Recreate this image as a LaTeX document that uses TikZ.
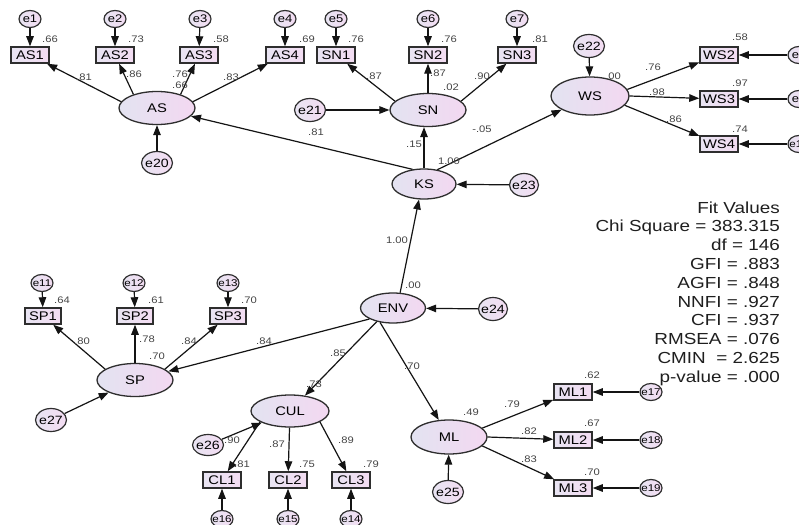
\documentclass[tikz,border=0pt]{standalone}
\usepackage{fontspec}
\setmainfont{Liberation Sans}[FakeStretch=1.18]
\usetikzlibrary{shapes.geometric,arrows.meta}
\definecolor{edgec}{HTML}{2E2E2E}
\definecolor{fillL}{HTML}{E3E3F1}
\definecolor{fillR}{HTML}{F3D8F1}
\definecolor{boxL}{HTML}{E8E4F2}
\definecolor{boxR}{HTML}{F3DCF2}
\definecolor{coefc}{HTML}{444444}
\newcommand{\ztext}[1]{\makebox[0pt]{#1}}
\begin{document}
\begin{tikzpicture}[x=1pt,y=-1pt,
 lat/.style={ellipse, draw=edgec, line width=1.3pt, left color=fillL, right color=fillR, minimum width=76pt, minimum height=33pt, inner sep=0pt, font=\fontsize{12.5}{14}\selectfont},
 obs/.style={rectangle, draw=edgec, line width=1.5pt, left color=boxL, right color=boxR, minimum width=38pt, minimum height=16pt, inner sep=1pt, font=\fontsize{12.5}{14}\selectfont},
 errs/.style={ellipse, draw=edgec, line width=1.2pt, left color=boxL, right color=boxR, minimum width=22pt, minimum height=17pt, inner sep=0pt, font=\fontsize{11}{12}\selectfont},
 errss/.style={errs, font=\fontsize{9.8}{11}\selectfont},
 errb/.style={errs, minimum width=31pt, minimum height=23pt, font=\fontsize{12}{13}\selectfont},
 coef/.style={font=\fontsize{9.5}{10}\selectfont, text=coefc, inner sep=0pt},
 fitv/.style={anchor=base east, font=\fontsize{16}{18}\selectfont, text=black!88, inner sep=0pt},
 arr/.style={-{Triangle[length=10pt,width=7.5pt]}, line width=1.2pt, draw=black!92},
]
\path[use as bounding box, clip] (0,0) rectangle (799,524);
\fill[white] (0,0) rectangle (799,524);

% ---------- AS block ----------
\node[errs] (e1) at (30,19) {\ztext{e1}};
\node[errs] (e2) at (115,19) {\ztext{e2}};
\node[errs] (e3) at (200,19) {\ztext{e3}};
\node[errs] (e4) at (285,19) {\ztext{e4}};
\node[obs] (AS1) at (30,55) {AS1};
\node[obs] (AS2) at (115,55) {AS2};
\node[obs] (AS3) at (199,55) {AS3};
\node[obs] (AS4) at (285,55) {AS4};
\node[lat] (AS) at (157,108) {AS};
\node[errb] (e20) at (157,163) {\ztext{e20}};

% ---------- SN block ----------
\node[errs] (e5) at (336,19) {\ztext{e5}};
\node[errs] (e6) at (428,19) {\ztext{e6}};
\node[errs] (e7) at (517,19) {\ztext{e7}};
\node[obs] (SN1) at (336,55) {SN1};
\node[obs] (SN2) at (428,55) {SN2};
\node[obs] (SN3) at (517,55) {SN3};
\node[lat] (SN) at (428,110) {SN};
\node[errb] (e21) at (310,110) {\ztext{e21}};

% ---------- WS block ----------
\node[lat, minimum width=78pt, minimum height=38pt] (WS) at (590,96) {WS};
\node[errb] (e22) at (589,46) {\ztext{e22}};
\node[obs] (WS2) at (719,55) {WS2};
\node[obs] (WS3) at (719,99) {WS3};
\node[obs] (WS4) at (719,144) {WS4};
\node[errs] (e8) at (799,55) {\ztext{e8}};
\node[errs] (e9) at (799,99) {\ztext{e9}};
\node[errss] (e10) at (799,144) {\ztext{e10}};

% ---------- KS / ENV ----------
\node[lat, minimum width=64pt, minimum height=30pt] (KS) at (424,184) {KS};
\node[errb, minimum width=29pt] (e23) at (524,185) {\ztext{e23}};
\node[lat, minimum width=65pt, minimum height=30pt] (ENV) at (393,308) {ENV};
\node[errb, minimum width=29pt] (e24) at (493,309) {\ztext{e24}};

% ---------- SP block ----------
\node[errss] (e11) at (42,283) {\ztext{e11}};
\node[errss] (e12) at (134,283) {\ztext{e12}};
\node[errss] (e13) at (228,283) {\ztext{e13}};
\node[obs, minimum width=36pt] (SP1) at (43,316) {SP1};
\node[obs, minimum width=36pt] (SP2) at (135,316) {SP2};
\node[obs, minimum width=36pt] (SP3) at (228,316) {SP3};
\node[lat] (SP) at (135,380) {SP};
\node[errb] (e27) at (51,420) {\ztext{e27}};

% ---------- CUL block ----------
\node[lat, minimum width=78pt, minimum height=32pt] (CUL) at (290,411) {CUL};
\node[errb, minimum height=21pt] (e26) at (208,445) {\ztext{e26}};
\node[obs] (CL1) at (222,480) {CL1};
\node[obs] (CL2) at (288,480) {CL2};
\node[obs] (CL3) at (351,480) {CL3};
\node[errss] (e16) at (222,519) {\ztext{e16}};
\node[errss] (e15) at (288,519) {\ztext{e15}};
\node[errss] (e14) at (351,519) {\ztext{e14}};

% ---------- ML block ----------
\node[lat, minimum height=34pt] (ML) at (449,437) {ML};
\node[errb] (e25) at (448,492) {\ztext{e25}};
\node[obs] (ML1) at (573,392) {ML1};
\node[obs] (ML2) at (573,440) {ML2};
\node[obs] (ML3) at (573,488) {ML3};
\node[errss] (e17) at (651,392) {\ztext{e17}};
\node[errss] (e18) at (651,440) {\ztext{e18}};
\node[errss] (e19) at (651,488) {\ztext{e19}};

% ---------- connectors ----------
\draw[arr] (e1) -- (AS1);
\draw[arr] (e2) -- (AS2);
\draw[arr] (e3) -- (AS3);
\draw[arr] (e4) -- (AS4);
\draw[arr] (AS.170) -- (AS1);
\draw[arr] (AS.150) -- (AS2);
\draw[arr] (AS.30) -- (AS3);
\draw[arr] (AS.10) -- (AS4);
\draw[arr] (e20) -- (AS);

\draw[arr] (e5) -- (SN1);
\draw[arr] (e6) -- (SN2);
\draw[arr] (e7) -- (SN3);
\draw[arr] (SN.165) -- (SN1);
\draw[arr] (SN) -- (SN2);
\draw[arr] (SN.15) -- (SN3);
\draw[arr] (e21) -- (SN);

\draw[arr] (e22) -- (WS);
\draw[arr] (WS.10) -- (WS2);
\draw[arr] (WS.east) -- (WS3);
\draw[arr] (WS.-15) -- (WS4);
\draw[arr] (e8) -- (WS2);
\draw[arr] (e9) -- (WS3);
\draw[arr] (e10) -- (WS4);

\draw[arr] (KS.128) -- (AS);
\draw[arr] (KS.north) -- (KS.north |- SN.south);
\draw[arr] (KS.47) -- (WS);
\draw[arr] (e23) -- (KS);
\draw[arr] (ENV.65) -- (KS.252);
\draw[arr] (e24) -- (ENV);

\draw[arr] (ENV.205) -- (SP);
\draw[arr] (ENV.220) -- (CUL);
\draw[arr] (ENV.228) -- (ML);

\draw[arr] (e11) -- (SP1);
\draw[arr] (e12) -- (SP2);
\draw[arr] (e13) -- (SP3);
\draw[arr] (SP.160) -- (SP1);
\draw[arr] (SP) -- (SP2);
\draw[arr] (SP.20) -- (SP3);
\draw[arr] (e27) -- (SP);

\draw[arr] (CUL.200) -- (CL1);
\draw[arr] (CUL) -- (CL2);
\draw[arr] (CUL.340) -- (CL3);
\draw[arr] (e26) -- (CUL);
\draw[arr] (e16) -- (CL1);
\draw[arr] (e15) -- (CL2);
\draw[arr] (e14) -- (CL3);

\draw[arr] (ML.15) -- (ML1);
\draw[arr] (ML.east) -- (ML2);
\draw[arr] (ML.-15) -- (ML3);
\draw[arr] (e25) -- (ML);
\draw[arr] (e17) -- (ML1);
\draw[arr] (e18) -- (ML2);
\draw[arr] (e19) -- (ML3);

% ---------- coefficients ----------
\node[coef] (c1) at (50,39) {.66};
\node[coef] (c2) at (136,39) {.73};
\node[coef] (c3) at (221,39) {.58};
\node[coef] (c4) at (307,39) {.69};
\node[coef] (c5) at (84,77) {.81};
\node[coef] (c6) at (134,74) {.86};
\node[coef] (c7) at (180,74) {.76};
\node[coef] (c8) at (180,85) {.66};
\node[coef] (c9) at (231,77) {.83};

\node[coef] (c10) at (356,39) {.76};
\node[coef] (c11) at (449,39) {.76};
\node[coef] (c12) at (540,39) {.81};
\node[coef] (c13) at (374,76) {.87};
\node[coef] (c14) at (438,73) {.87};
\node[coef] (c15) at (451,87) {.02};
\node[coef] (c16) at (482,76) {.90};
\node[coef] (c17) at (316,132) {.81};
\node[coef] (c18) at (414,144) {.15};
\node[coef] (c19) at (482,129) {-.05};
\node[coef] (c20) at (449,161) {1.00};

\node[coef] (c21) at (613,76) {.00};
\node[coef] (c22) at (653,67) {.76};
\node[coef] (c23) at (657,92) {.98};
\node[coef] (c24) at (674,119) {.86};
\node[coef] (c25) at (740,37) {.58};
\node[coef] (c26) at (740,83) {.97};
\node[coef] (c27) at (740,129) {.74};

\node[coef] (c28) at (397,240) {1.00};
\node[coef] (c29) at (413,285) {.00};

\node[coef] (c30) at (62,300) {.64};
\node[coef] (c31) at (156,300) {.61};
\node[coef] (c32) at (249,300) {.70};
\node[coef] (c33) at (82,341) {.80};
\node[coef] (c34) at (147,339) {.78};
\node[coef] (c35) at (157,356) {.70};
\node[coef] (c36) at (189,341) {.84};
\node[coef] (c37) at (264,341) {.84};

\node[coef] (c38) at (338,353) {.85};
\node[coef] (c39) at (314,384) {.73};
\node[coef] (c40) at (232,440) {.90};
\node[coef] (c41) at (242,464) {.81};
\node[coef] (c42) at (277,444) {.87};
\node[coef] (c43) at (307,464) {.75};
\node[coef] (c44) at (346,440) {.89};
\node[coef] (c45) at (371,464) {.79};

\node[coef] (c46) at (412,366) {.70};
\node[coef] (c47) at (471,412) {.49};
\node[coef] (c48) at (512,404) {.79};
\node[coef] (c49) at (529,431) {.82};
\node[coef] (c50) at (529,459) {.83};
\node[coef] (c51) at (592,375) {.62};
\node[coef] (c52) at (592,423) {.67};
\node[coef] (c53) at (592,472) {.70};

% ---------- fit values ----------
\node[fitv] (f1) at (780,213) {Fit Values};
\node[fitv] (f2) at (780,231.8) {Chi Square = 383.315};
\node[fitv] (f3) at (780,250.6) {df = 146};
\node[fitv] (f4) at (780,269.4) {GFI = .883};
\node[fitv] (f5) at (780,288.2) {AGFI = .848};
\node[fitv] (f6) at (780,307) {NNFI = .927};
\node[fitv] (f7) at (780,325.8) {CFI = .937};
\node[fitv] (f8) at (780,344.6) {RMSEA = .076};
\node[fitv] (f9) at (780,363.4) {CMIN~ = 2.625};
\node[fitv] (f10) at (780,382.2) {p-value = .000};
\end{tikzpicture}
\end{document}
